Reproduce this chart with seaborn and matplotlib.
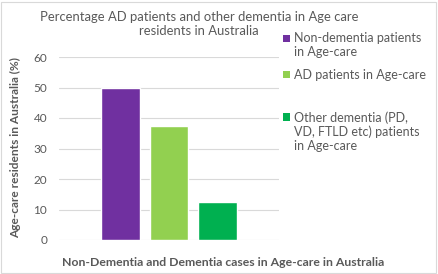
import matplotlib
matplotlib.use("Agg")
import matplotlib.pyplot as plt
import seaborn as sns
import pandas as pd
from matplotlib.patches import Patch, Rectangle
from matplotlib.legend_handler import HandlerPatch

# data
categories = ["Non-dementia patients\nin Age-care",
              "AD patients in Age-care\n ",
              "Other dementia (PD,\nVD, FTLD etc) patients\nin Age-care"]
percent = [50, 37.5, 12.5]
colors = ["#7030A0", "#92D050", "#00B050"]
yticks = [0, 10, 20, 30, 40, 50, 60]

sns.set_style("white")
plt.rcParams["font.family"] = ["Lato", "DejaVu Sans"]
grey = "#595959"
leg_fs = 9

df = pd.DataFrame({"cat": categories, "pct": percent})

fig = plt.figure(figsize=(4.39, 2.74), dpi=100)
ax = fig.add_axes([59 / 439, 1 - 240 / 274, 220 / 439, 183 / 274])

sns.barplot(data=df, x="cat", y="pct", hue="cat", order=categories,
            palette=colors, saturation=1, width=0.8, legend=False, ax=ax, zorder=3)

ax.set_ylim(0, 60)
ax.set_yticks(yticks)
ax.set_xlim(-1.27, 3.27)
ax.set_xticks([])
ax.yaxis.grid(True, color="#D9D9D9", linewidth=0.8, zorder=0)
for s in ax.spines.values():
    s.set_visible(False)
ax.tick_params(axis="y", length=0, labelsize=8.5, labelcolor=grey, pad=8.5)
ax.set_xlabel("")
ax.set_ylabel("")

fig.text(199 / 439, 1 - 24 / 274, "Percentage AD patients and other dementia in Age care\nresidents in Australia",
         ha="center", va="center", fontsize=9.4, color=grey, linespacing=1.2)
fig.text(16 / 439, 1 - 147 / 274, "Age-care residents in Australia (%)", rotation=90,
         ha="center", va="center", fontsize=8.6, color=grey, fontweight="bold")
fig.text(223 / 439, 1 - 263 / 274, "Non-Dementia and Dementia cases in Age-care in Australia",
         ha="center", va="center", fontsize=8.8, color=grey, fontweight="bold")


# legend squares sit next to the first line of each label, as in Excel
def top_square(legend, orig_handle, xdescent, ydescent, width, height, fontsize):
    n, ls = orig_handle.get_gid()
    shift = (n - 1) / 2 * ls * fontsize
    return Rectangle((-xdescent, -ydescent + shift), width, height)


line_sp = [1.2, 1.75, 1.2]
handles = []
for c, lab, ls in zip(colors, categories, line_sp):
    p = Patch(facecolor=c, edgecolor="none")
    p.set_gid((lab.count("\n") + 1, ls))
    handles.append(p)
leg = fig.legend(handles, categories, loc="upper left", bbox_to_anchor=(272 / 439, 1 - 21 / 274),
                 frameon=False, fontsize=leg_fs, labelcolor=grey, handlelength=0.55, handleheight=0.55,
                 handletextpad=0.35, labelspacing=0.85,
                 handler_map={Patch: HandlerPatch(patch_func=top_square)})
for t, ls in zip(leg.get_texts(), line_sp):
    t.set_linespacing(ls)

fig.patches.append(plt.Rectangle((0.003, 0.003), 0.99, 0.99, transform=fig.transFigure,
                                 fill=False, edgecolor="#D9D9D9", linewidth=0.8))
fig.savefig("out.png", dpi=100)
